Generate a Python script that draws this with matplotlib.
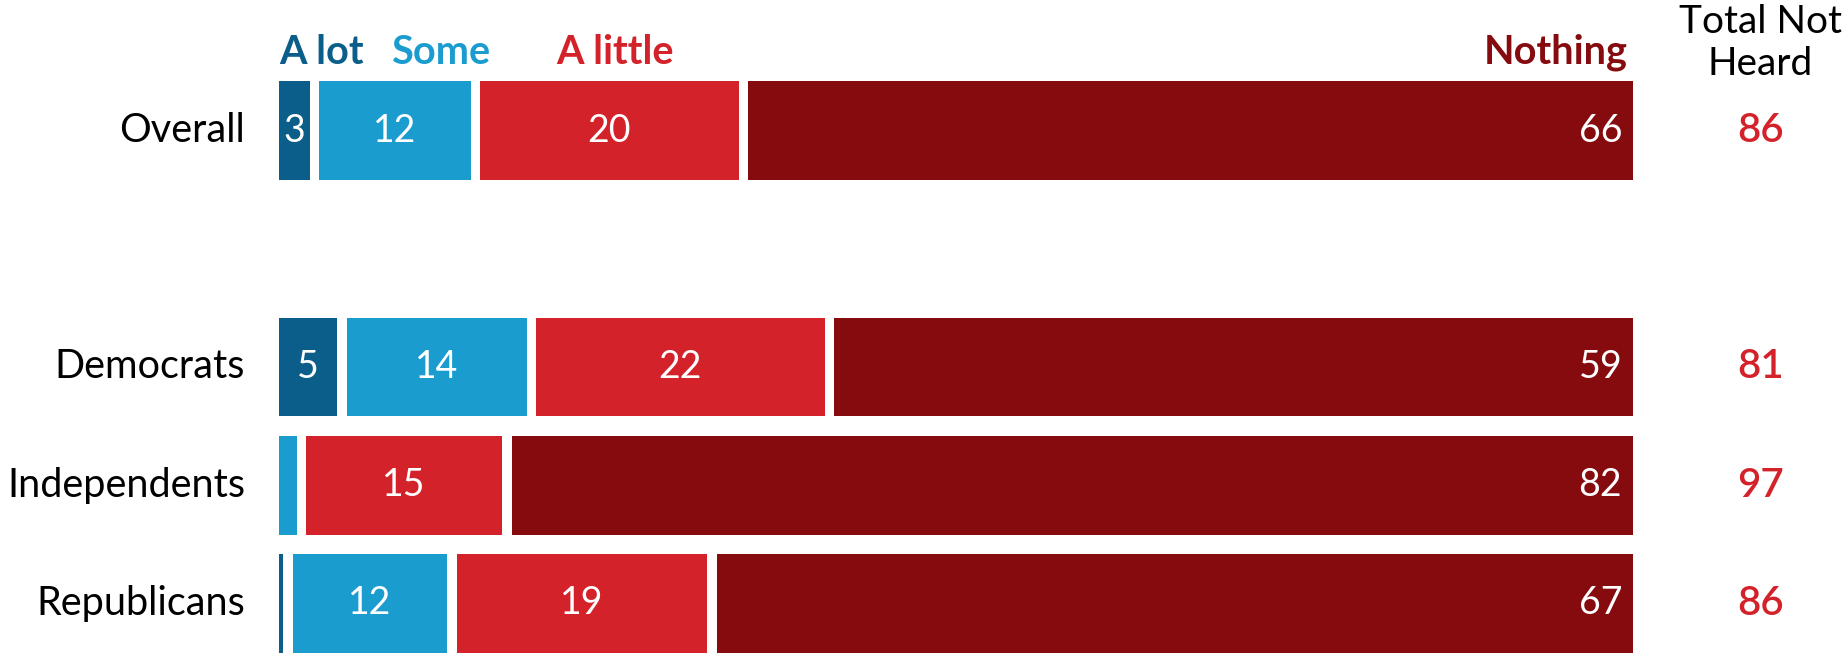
import matplotlib
matplotlib.use("Agg")
import matplotlib.pyplot as plt
import numpy as np

groups = ["Overall", "Democrats", "Independents", "Republicans"]
positions = [0, 2, 3, 4]
categories = ["A lot", "Some", "A little", "Nothing"]
a_lot = [3, 5, 0, 1]
some = [12, 14, 2, 12]
a_little = [20, 22, 15, 19]
nothing = [66, 59, 82, 67]
total_not_heard = [86, 81, 97, 86]

colors = ["#0A5E89", "#1A9CCF", "#D3222A", "#850B0E"]
header_colors = ["#0A5E89", "#1A9CCF", "#D3222A", "#850B0E"]

plt.rcParams['font.family'] = ['Lato', 'DejaVu Sans']

W, H = 1845, 653
fig = plt.figure(figsize=(W / 100, H / 100), dpi=100)
ax = fig.add_axes([279 / W, 0, (1633 - 279) / W, 1])
ax.set_xlim(0, 100)
ax.set_ylim(4.419, -1.104)
ax.axis("off")

series = [a_lot, some, a_little, nothing]
gap = 0.7
bar_h = 0.837
for i, (g, y) in enumerate(zip(groups, positions)):
    vals = np.array([s[i] for s in series], dtype=float)
    total = vals.sum()
    scaled = vals / total * 100
    left = 0.0
    for j, (v, sv) in enumerate(zip(vals, scaled)):
        if v > 0:
            w = sv - gap if j < len(vals) - 1 else sv
            ax.barh(y, w, left=left, height=bar_h, color=colors[j], linewidth=0)
            if v >= 3:
                if j == len(vals) - 1:
                    ax.text(left + sv - 0.8, y, f"{int(v)}", ha="right", va="center",
                            color="white", fontsize=27)
                else:
                    ax.text(left + w / 2, y, f"{int(v)}", ha="center", va="center",
                            color="white", fontsize=27)
        left += sv
    ax.text(-2.5, y, g, ha="right", va="center", fontsize=28.5, color="black", clip_on=False)
    ax.text(109.4, y, f"{total_not_heard[i]}", ha="center", va="center", fontsize=29,
            color="#D3222A", fontweight="semibold", clip_on=False)

hy = -0.664
hs = 28.5
ax.text(0, hy, categories[0], ha="left", va="center", fontsize=hs, fontweight="bold",
        color=header_colors[0], clip_on=False)
ax.text(11.96, hy, categories[1], ha="center", va="center", fontsize=hs, fontweight="bold",
        color=header_colors[1], clip_on=False)
ax.text(24.8, hy, categories[2], ha="center", va="center", fontsize=hs, fontweight="bold",
        color=header_colors[2], clip_on=False)
ax.text(99.6, hy, categories[3], ha="right", va="center", fontsize=hs, fontweight="bold",
        color=header_colors[3], clip_on=False)
ax.text(109.4, -0.74, "Total Not\nHeard", ha="center", va="center", fontsize=28,
        color="black", linespacing=1.2, clip_on=False)

fig.savefig("out.png", dpi=100)
